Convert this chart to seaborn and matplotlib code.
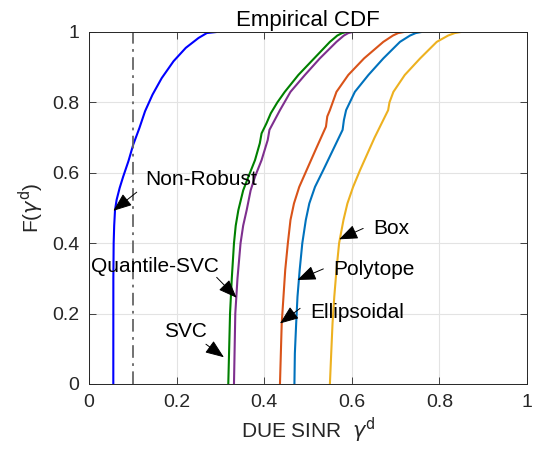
import numpy as np
import pandas as pd
import matplotlib
matplotlib.use("Agg")
import matplotlib.pyplot as plt
import seaborn as sns

# CDF levels and SINR values, one pair per method
nonrobust_cdf = [0, 0.3, 0.4, 0.45, 0.494, 0.523, 0.557, 0.589, 0.633, 0.68, 0.727, 0.775,
                 0.822, 0.869, 0.917, 0.955, 0.983, 0.997, 1.0]
nonrobust_sinr = [0.0555, 0.0556, 0.0563, 0.0575, 0.0594, 0.063, 0.07, 0.078, 0.09, 0.101, 0.115, 0.128,
                  0.145, 0.166, 0.193, 0.221, 0.25, 0.269, 0.291]

svc_cdf = [0, 0.2, 0.3, 0.4, 0.45, 0.494, 0.55, 0.589, 0.636, 0.684, 0.712, 0.74, 0.769,
           0.8, 0.83, 0.878, 0.925, 0.972, 0.99, 0.997, 1.0]
svc_sinr = [0.318, 0.322, 0.326, 0.331, 0.335, 0.341, 0.352, 0.364, 0.379, 0.39, 0.394, 0.405, 0.415,
            0.43, 0.447, 0.478, 0.514, 0.55, 0.567, 0.578, 0.588]

qsvc_cdf = [0, 0.2, 0.3, 0.4, 0.45, 0.494, 0.55, 0.589, 0.636, 0.693, 0.722, 0.778, 0.83,
            0.878, 0.925, 0.972, 0.99, 0.997, 1.0]
qsvc_sinr = [0.331, 0.334, 0.339, 0.346, 0.352, 0.36, 0.369, 0.379, 0.394, 0.408, 0.412, 0.436, 0.46,
             0.493, 0.527, 0.565, 0.582, 0.592, 0.602]

ellip_cdf = [0, 0.087, 0.172, 0.248, 0.324, 0.4, 0.466, 0.513, 0.56, 0.608, 0.67, 0.731, 0.76,
             0.778, 0.83, 0.878, 0.925, 0.972, 0.99, 0.997, 1.0]
ellip_sinr = [0.436, 0.438, 0.44, 0.444, 0.448, 0.454, 0.46, 0.468, 0.48, 0.497, 0.519, 0.541, 0.544,
              0.55, 0.565, 0.592, 0.628, 0.672, 0.694, 0.706, 0.719]

poly_cdf = [0, 0.087, 0.172, 0.248, 0.324, 0.4, 0.466, 0.513, 0.56, 0.608, 0.665, 0.722, 0.75,
            0.778, 0.83, 0.878, 0.925, 0.972, 0.99, 0.997, 1.0]
poly_sinr = [0.469, 0.47, 0.473, 0.476, 0.481, 0.487, 0.495, 0.503, 0.516, 0.535, 0.557, 0.579, 0.582,
             0.587, 0.607, 0.638, 0.672, 0.71, 0.733, 0.746, 0.759]

box_cdf = [0, 0.087, 0.172, 0.248, 0.324, 0.4, 0.466, 0.513, 0.56, 0.608, 0.7, 0.778, 0.80,
           0.83, 0.878, 0.925, 0.972, 0.99, 0.997, 1.0]
box_sinr = [0.55, 0.553, 0.556, 0.56, 0.565, 0.571, 0.581, 0.59, 0.603, 0.619, 0.652, 0.683, 0.686,
            0.695, 0.721, 0.756, 0.794, 0.82, 0.835, 0.849]

methods = ["Non-Robust", "SVC", "Quantile-SVC", "Ellipsoidal", "Polytope", "Box"]
colors = ["#0000FF", "#008000", "#7E2F8E", "#D95319", "#0072BD", "#EDB120"]
sinr_threshold = 0.1

# text position (x, y), arrow tail, arrow tip
labels = {
    "Non-Robust":   ((0.129, 0.58), (0.109, 0.545), (0.0555, 0.492)),
    "Quantile-SVC": ((0.004, 0.334), (0.2915, 0.303), (0.337, 0.245)),
    "SVC":          ((0.172, 0.149), (0.267, 0.113), (0.308, 0.076)),
    "Ellipsoidal":  ((0.505, 0.203), (0.482, 0.215), (0.436, 0.172)),
    "Polytope":     ((0.558, 0.325), (0.535, 0.327), (0.4756, 0.2955)),
    "Box":          ((0.648, 0.442), (0.626, 0.442), (0.571, 0.411)),
}

series = {
    "Non-Robust": (nonrobust_sinr, nonrobust_cdf),
    "SVC": (svc_sinr, svc_cdf),
    "Quantile-SVC": (qsvc_sinr, qsvc_cdf),
    "Ellipsoidal": (ellip_sinr, ellip_cdf),
    "Polytope": (poly_sinr, poly_cdf),
    "Box": (box_sinr, box_cdf),
}
frames = []
for name in methods:
    xs, ys = series[name]
    frames.append(pd.DataFrame({"sinr": xs, "cdf": ys, "method": name}))
df = pd.concat(frames, ignore_index=True)

sns.set_style("whitegrid")
plt.rcParams["font.family"] = ["Liberation Sans", "DejaVu Sans"]
plt.rcParams["mathtext.fontset"] = "dejavusans"

fig = plt.figure(figsize=(5.37, 4.59), dpi=100)
ax = fig.add_axes([89 / 537, 75 / 459, 438 / 537, 352 / 459])

sns.lineplot(data=df, x="sinr", y="cdf", hue="method", hue_order=methods,
             palette=colors, sort=False, estimator=None, legend=False,
             linewidth=1.5, ax=ax)
ax.axvline(sinr_threshold, color="#666666", linestyle=(0, (7, 3, 1.5, 3)), linewidth=1.3)

for name, (txt, tail, tip) in labels.items():
    ax.text(txt[0], txt[1], name, fontsize=15, color="k", ha="left", va="center")
    ax.annotate("", xy=tip, xytext=tail,
                arrowprops=dict(arrowstyle="-|>,head_length=1.15,head_width=0.45",
                                color="k", lw=0.7, mutation_scale=10,
                                shrinkA=0, shrinkB=0))

ax.set_xlim(0, 1)
ax.set_ylim(0, 1)
ax.set_xticks(np.arange(0, 1.01, 0.2))
ax.set_yticks(np.arange(0, 1.01, 0.2))
ax.set_xticklabels(["0", "0.2", "0.4", "0.6", "0.8", "1"])
ax.set_yticklabels(["0", "0.2", "0.4", "0.6", "0.8", "1"])
ax.grid(True, color="#e3e3e3", linewidth=0.8)
ax.tick_params(direction="in", length=5, width=0.6, color="#262626",
               labelsize=14, top=True, right=True, bottom=True, left=True,
               pad=7)
for sp in ax.spines.values():
    sp.set_visible(True)
    sp.set_color("#262626")
    sp.set_linewidth(0.7)

ax.set_xlabel(r"DUE SINR  $\gamma^{\rm d}$", fontsize=15)
ax.set_ylabel(r"F($\gamma^{\rm d}$)", fontsize=15)
ax.set_title("Empirical CDF", fontsize=16, pad=4, color="k")

fig.savefig("out.png", dpi=100)
